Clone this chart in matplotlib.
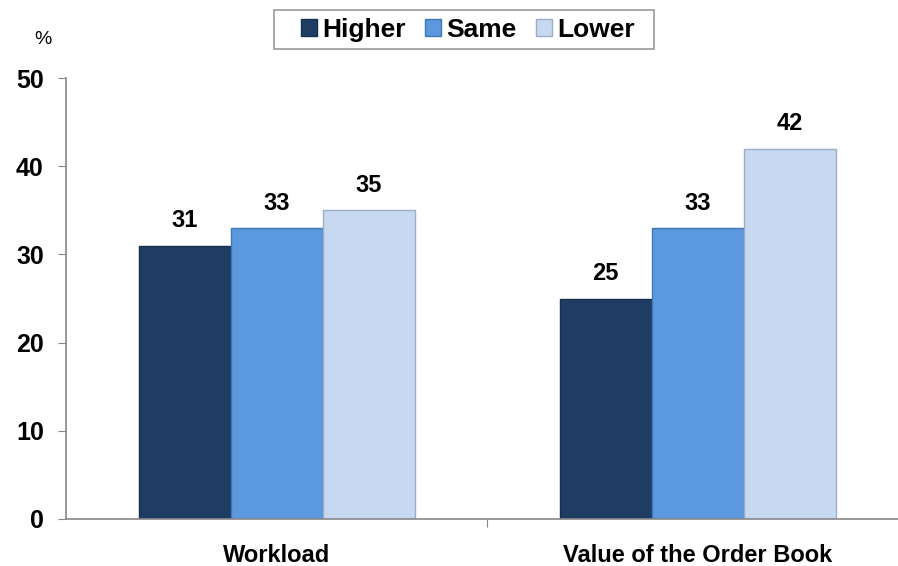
import matplotlib
matplotlib.use("Agg")
import matplotlib.pyplot as plt
from matplotlib.patches import Rectangle
import numpy as np

plt.rcParams['font.family'] = ['Liberation Sans', 'DejaVu Sans']

categories = ["Workload", "Value of the Order Book"]
series_names = ["Higher", "Same", "Lower"]
higher = [31, 25]
same = [33, 33]
lower = [35, 42]
yticks = [0, 10, 20, 30, 40, 50]

colors = ["#1F3C63", "#5B98DD", "#C6D9F1"]
edges = ["#16304F", "#3F78B8", "#9AAFC8"]

fig = plt.figure(figsize=(8.98, 5.66), dpi=100)
ax = fig.add_axes([66/898, 1-519/566, 1-66/898, (519-78)/566])

x = np.arange(len(categories))
w = 0.2185
for i, (vals, name) in enumerate(zip([higher, same, lower], series_names)):
    pos = x + (i - 1) * w
    ax.bar(pos, vals, width=w, color=colors[i], edgecolor=edges[i], linewidth=1.0, label=name, zorder=2)
    for px, v in zip(pos, vals):
        ax.text(px, v + 1.5, f"{v}", ha='center', va='bottom', fontsize=17, fontweight='bold')

ax.set_xlim(-0.5, 1.476)
ax.set_ylim(0, 50)
ax.set_yticks(yticks)
ax.set_yticklabels([str(t) for t in yticks], fontsize=18, fontweight='bold')
ax.set_xticks([0.5], minor=False)
ax.set_xticklabels([""])
ax.set_xticks(x, minor=True)
ax.set_xticklabels(categories, minor=True, fontsize=17, fontweight='bold')
ax.tick_params(axis='x', which='minor', length=0, pad=18)
ax.tick_params(axis='x', which='major', length=6, color='#888888', direction='out')
ax.tick_params(axis='y', length=6, color='#888888', direction='out', pad=10)

for s in ['top', 'right']:
    ax.spines[s].set_visible(False)
for s in ['left', 'bottom']:
    ax.spines[s].set_color('#888888')
    ax.spines[s].set_linewidth(1.2)

fig.text(43/898, 1-40/566, "%", ha='center', va='center', fontsize=14)

fig.patches.append(Rectangle((274/898, 1-49/566), 380/898, 39/566, transform=fig.transFigure,
                             facecolor='white', edgecolor='#999999', linewidth=1.2, zorder=0))
leg = fig.legend(loc='center', bbox_to_anchor=(468/898, 1-30/566), ncol=3, frameon=False,
                 prop={'size': 19, 'weight': 'bold'},
                 handlelength=0.6, handleheight=0.6, handletextpad=0.2, columnspacing=0.75,
                 borderpad=0.3, borderaxespad=0)

fig.savefig("out.png", dpi=100)
